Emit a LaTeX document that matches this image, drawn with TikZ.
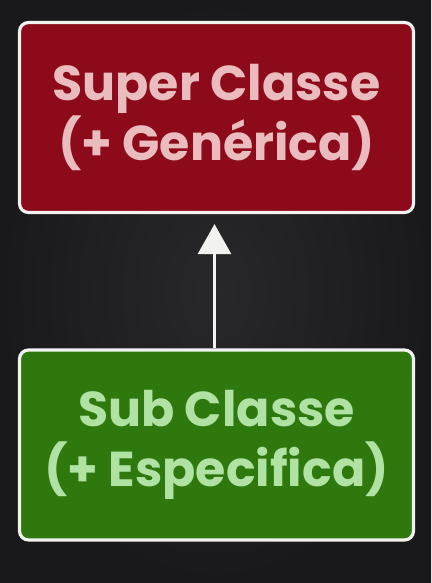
\documentclass[tikz,border=0pt]{standalone}
\usepackage{fontspec}
\setmainfont{Poppins}
\usetikzlibrary{arrows.meta,shadings}
\definecolor{board}{HTML}{28282A}
\definecolor{boardedge}{HTML}{19191B}
\definecolor{redfill}{HTML}{8C0A19}
\definecolor{greenfill}{HTML}{2F780E}
\definecolor{redtext}{HTML}{EBBCBE}
\definecolor{greentext}{HTML}{B0E2A4}
\definecolor{chalk}{HTML}{F2F2F0}
\tikzset{
  classbox/.style={draw=chalk, line width=3.2pt, rounded corners=9pt,
    minimum width=394pt, minimum height=190pt, align=center,
    font=\fontsize{49}{60}\selectfont\bfseries},
  superbox/.style={classbox, fill=redfill, text=redtext},
  subbox/.style={classbox, fill=greenfill, text=greentext},
  inherit/.style={draw=chalk, line width=3pt,
    -{Triangle[length=30pt,width=33pt]}, shorten >=10pt}
}
\begin{document}
\begin{tikzpicture}[x=1pt,y=-1pt]
\useasboundingbox (0,0) rectangle (431,583);
\shade[inner color=board, outer color=boardedge] (0,0) rectangle (431,583);
\node[superbox] (super) at (216.5,117.5) {Super Classe\\(+ Genérica)};
\node[subbox] (sub) at (216.5,445) {Sub Classe\\(+ Especifica)};
\draw[inherit] ([xshift=-2pt]sub.north) -- ([xshift=-2pt]super.south);
\end{tikzpicture}
\end{document}
